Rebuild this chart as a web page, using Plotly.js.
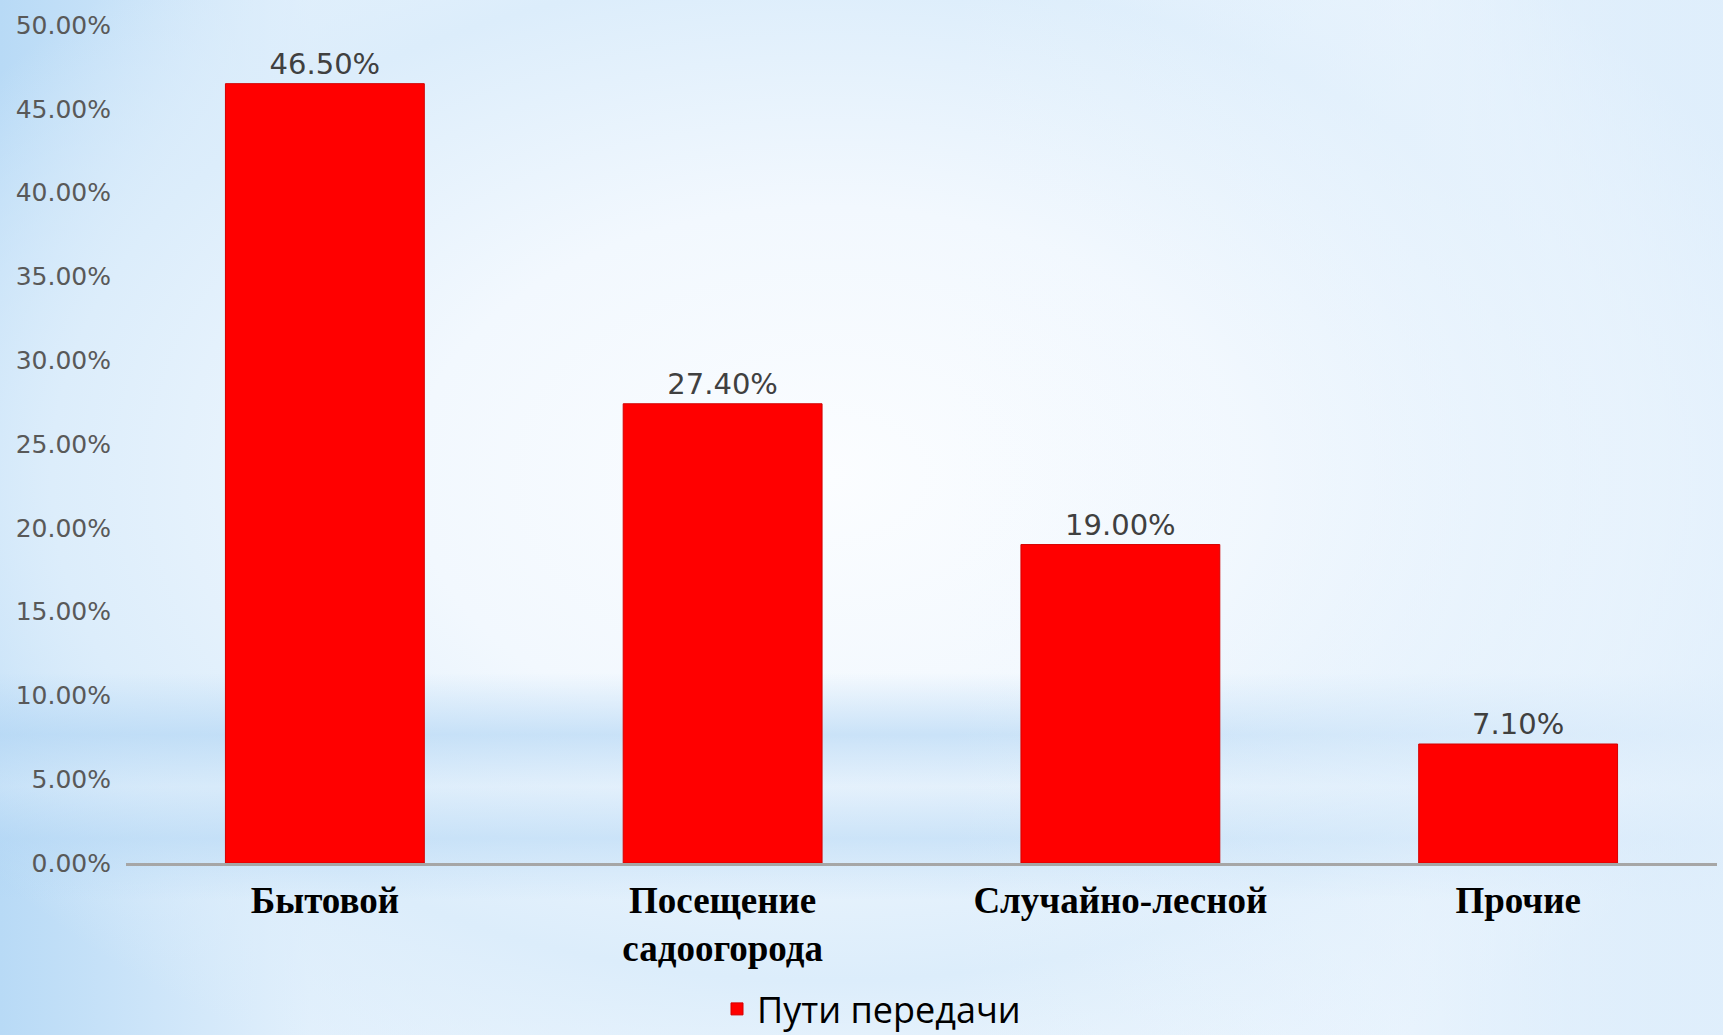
<!DOCTYPE html>
<html>
<head>
<meta charset="utf-8">
<script src="https://cdn.plot.ly/plotly-3.0.1.min.js"></script>
<style>
  html, body { margin: 0; padding: 0; width: 1723px; height: 1035px; overflow: hidden; }
  body {
    background:
      linear-gradient(90deg, rgba(255,255,255,0) 0%, rgba(255,255,255,0) 55%, rgba(240,247,254,0.7) 100%),
      linear-gradient(180deg, rgba(180,215,245,0) 65%, rgba(175,212,244,0.6) 71%, rgba(205,228,248,0.3) 76%, rgba(175,212,244,0.5) 81%, rgba(180,215,245,0) 87%),
      radial-gradient(ellipse 60% 65% at 48% 46%, #fbfdff 0%, #f2f8fe 40%, #dcedfb 75%, rgba(190,222,247,0) 100%),
      linear-gradient(90deg, #b8daf6 0%, #e2f0fc 18%, #f4f9fe 50%, #e2f0fc 82%, #b8daf6 100%);
  }
  #chart { width: 1723px; height: 1035px; }
</style>
</head>
<body>
<div id="chart"></div>
<script>
// Data
const categories = ["Бытовой", "Посещение<br>садоогорода", "Случайно-лесной", "Прочие"];
const values = [46.5, 27.4, 19.0, 7.1];
const seriesName = "Пути передачи";
const yTickVals = [0, 5, 10, 15, 20, 25, 30, 35, 40, 45, 50];
const yTickText = ["0.00%", "5.00%", "10.00%", "15.00%", "20.00%", "25.00%", "30.00%", "35.00%", "40.00%", "45.00%", "50.00%"];

const trace = {
  type: "bar",
  x: categories,
  y: values,
  name: seriesName,
  text: values.map(v => v.toFixed(2) + "%"),
  textposition: "outside",
  cliponaxis: false,
  textfont: { family: "DejaVu Sans", size: 29, color: "#404040" },
  marker: { color: "#ff0000", line: { color: "#d40000", width: 1 } },
  hoverinfo: "skip",
  showlegend: true
};

const layout = {
  width: 1723,
  height: 1035,
  margin: { l: 126, r: 6, t: 25, b: 172, pad: 0 },
  paper_bgcolor: "rgba(0,0,0,0)",
  plot_bgcolor: "rgba(0,0,0,0)",
  bargap: 0.5,
  xaxis: {
    type: "category",
    showline: true,
    linecolor: "#a6a6a6",
    linewidth: 2.5,
    showgrid: false,
    zeroline: false,
    ticks: "",
    ticklabelstandoff: 3,
    tickfont: { family: "Liberation Serif", size: 37, color: "#000000", weight: "bold" }
  },
  yaxis: {
    range: [0, 50],
    tickvals: yTickVals,
    ticktext: yTickText,
    showgrid: false,
    zeroline: false,
    showline: false,
    ticks: "",
    ticklabelstandoff: 14,
    tickfont: { family: "DejaVu Sans", size: 25, color: "#595959" }
  },
  showlegend: true,
  legend: {
    orientation: "h",
    xref: "container",
    yref: "container",
    x: 717 / 1723,
    xanchor: "left",
    y: 1 - 1009 / 1035,
    yanchor: "middle",
    bgcolor: "rgba(0,0,0,0)",
    font: { family: "Open Sans", size: 36, color: "#000000" }
  }
};

Plotly.newPlot("chart", [trace], layout, { displayModeBar: false, staticPlot: true });
</script>
</body>
</html>
